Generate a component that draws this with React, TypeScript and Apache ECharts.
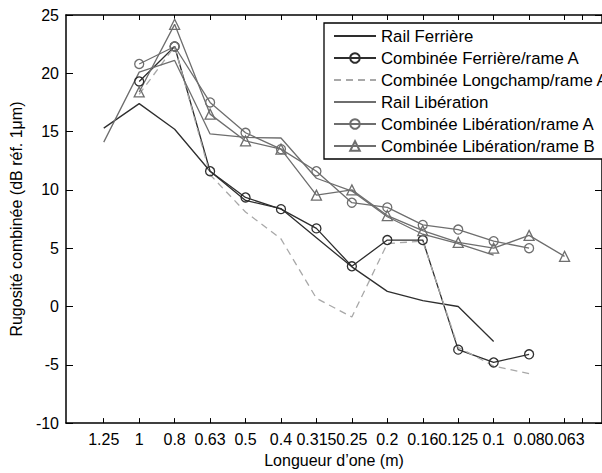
import React, { useEffect, useRef } from "react";
import * as echarts from "echarts";

const categories = ["1.25", "1", "0.8", "0.63", "0.5", "0.4", "0.315", "0.25", "0.2", "0.16", "0.125", "0.1", "0.08", "0.063"];

const railFerriere = [15.3, 17.4, 15.2, 11.6, 9.1, 8.4, 5.9, 3.4, 1.3, 0.5, 0.0, -3.0, null, null];
const combFerriereA = [null, 19.3, 22.3, 11.6, 9.35, 8.35, 6.7, 3.45, 5.7, 5.7, -3.7, -4.8, -4.1, null];
const combLongchampA = [null, 18.2, 22.3, 11.3, 8.1, 5.8, 0.7, -0.9, 5.4, 5.6, -3.5, -5.1, -5.75, null];
const railLiberation = [14.1, 20.1, 21.1, 14.8, 14.5, 14.45, 11.0, 9.9, 7.7, 6.2, 5.4, 4.4, null, null];
const combLiberationA = [null, 20.8, 22.3, 17.5, 14.9, 13.5, 11.6, 8.9, 8.5, 7.0, 6.6, 5.6, 5.0, null];
const combLiberationB = [null, 18.4, 24.2, 16.5, 14.2, 13.5, 9.55, 10.0, 7.8, 6.5, 5.5, 5.0, 6.1, 4.3];

const seriesNames = [
  "Rail Ferrière",
  "Combinée Ferrière/rame A",
  "Combinée Longchamp/rame A",
  "Rail Libération",
  "Combinée Libération/rame A",
  "Combinée Libération/rame B",
];

const tickPositions = [1, 2, 3, 4, 5, 6, 7, 8, 9, 10, 11, 12, 13, 14, 14.5];
const labelPositions = [1, 2, 3, 4, 5, 6, 7, 8, 9, 10, 11, 12, 13, 14];

const FONT = "'Liberation Sans', Arial, Helvetica, sans-serif";
const FS = 16;
const LEGEND_FS = 16.8;

function toPairs(vals: (number | null)[]) {
  const out: [number, number][] = [];
  vals.forEach((v, i) => {
    if (v !== null && v !== undefined) out.push([i + 1, v]);
  });
  return out;
}

function mkSeries(name: string, vals: (number | null)[], color: string, symbol: string, dashed = false) {
  const hasMarker = symbol !== "none";
  return {
    name,
    type: "line",
    data: toPairs(vals),
    symbol,
    symbolSize: symbol === "triangle" ? 10 : 9,
    showSymbol: hasMarker,
    lineStyle: { color, width: 1.3, type: dashed ? [7, 5] : "solid" },
    itemStyle: hasMarker
      ? { color: "rgba(0,0,0,0)", borderColor: color, borderWidth: 1.3 }
      : { color: "rgba(0,0,0,0)", borderColor: "rgba(0,0,0,0)", borderWidth: 0 },
    emphasis: { disabled: true },
    z: 2,
  };
}

export default function App() {
  const ref = useRef<HTMLDivElement>(null);
  useEffect(() => {
    if (!ref.current) return;
    const chart = echarts.init(ref.current, null, { renderer: "svg" });
    const dark = "#2e2e2e";
    const mid = "#6e6e6e";
    const light = "#a8a8a8";
    const gridWidth = 540;
    const xMin = -0.065;
    const xMax = xMin + gridWidth / 35.71;
    const xCommon = {
      type: "value",
      min: xMin,
      max: xMax,
      axisLine: { show: true, onZero: false, lineStyle: { color: "#000", width: 1.5 } },
      axisTick: { show: true, inside: true, length: 5, customValues: tickPositions, lineStyle: { color: "#000", width: 1 } },
      splitLine: { show: false },
    };
    const yCommon = {
      type: "value",
      min: -10,
      max: 25,
      interval: 5,
      axisLine: { show: true, onZero: false, lineStyle: { color: "#000", width: 1.5 } },
      axisTick: { show: true, inside: true, length: 7, lineStyle: { color: "#000", width: 1 } },
      splitLine: { show: false },
    };
    chart.setOption({
      animation: false,
      backgroundColor: "#fff",
      textStyle: { fontFamily: FONT },
      grid: { left: 66, top: 15, width: gridWidth, height: 417, containLabel: false },
      legend: {
        orient: "vertical",
        left: 324,
        top: 23,
        padding: [4, 12, 4, 9],
        itemWidth: 42,
        itemHeight: 12,
        itemGap: 4,
        backgroundColor: "#fff",
        borderColor: "#000",
        borderWidth: 1.3,
        textStyle: { fontSize: LEGEND_FS, color: "#000", fontFamily: FONT, lineHeight: 18 },
        data: seriesNames,
        selectedMode: false,
      },
      xAxis: [
        {
          ...xCommon,
          position: "bottom",
          name: "Longueur d’one (m)",
          nameLocation: "middle",
          nameGap: 26,
          nameTextStyle: { fontSize: FS, color: "#000", fontFamily: FONT },
          axisLabel: {
            show: true,
            customValues: labelPositions,
            margin: 8,
            fontSize: FS,
            color: "#000",
            fontFamily: FONT,
            formatter: (v: number) => categories[Math.round(v) - 1] ?? "",
          },
        },
        {
          ...xCommon,
          position: "top",
          axisLabel: { show: false },
        },
      ],
      yAxis: [
        {
          ...yCommon,
          position: "left",
          name: "Rugosité combinée (dB réf. 1μm)",
          nameLocation: "middle",
          nameRotate: 90,
          nameGap: 40,
          nameTextStyle: { fontSize: FS, color: "#000", fontFamily: FONT },
          axisLabel: { show: true, margin: 7, fontSize: FS, color: "#000", fontFamily: FONT },
        },
        {
          ...yCommon,
          position: "right",
          axisLabel: { show: false },
        },
      ],
      series: [
        mkSeries(seriesNames[0], railFerriere, dark, "none"),
        mkSeries(seriesNames[1], combFerriereA, dark, "circle"),
        mkSeries(seriesNames[2], combLongchampA, light, "none", true),
        mkSeries(seriesNames[3], railLiberation, mid, "none"),
        mkSeries(seriesNames[4], combLiberationA, mid, "circle"),
        mkSeries(seriesNames[5], combLiberationB, mid, "triangle"),
      ],
    });
    return () => chart.dispose();
  }, []);
  return <div ref={ref} style={{ width: 602, height: 473, position: "fixed", left: 0, top: 0 }} />;
}
